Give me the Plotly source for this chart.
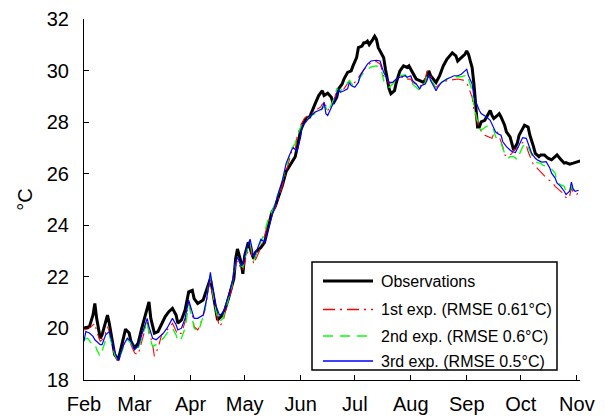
import pandas as pd
import plotly.graph_objects as go

# Day offsets from 1 February and daily mean temperature (°C) for each series
obs_day = [0, 3, 5, 6, 7, 9, 10, 12, 13, 14, 16, 17, 19, 20, 22, 23, 25, 26, 28, 30, 32, 34, 36, 37, 39, 41, 43, 45, 47, 49, 51, 52, 54, 56, 58, 60, 61, 63, 66, 68, 70, 71, 73, 74, 76, 78, 80, 83, 84, 85, 87, 88, 89, 91, 93, 94, 95, 98, 100, 102, 104, 106, 108, 110, 112, 115, 117, 118, 120, 122, 123, 125, 127, 128, 130, 132, 133, 135, 137, 138, 140, 141, 143, 144, 146, 148, 149, 151, 152, 154, 155, 156, 157, 158, 160, 161, 162, 163, 164, 166, 167, 168, 169, 170, 172, 173, 175, 177, 179, 180, 181, 183, 184, 186, 188, 190, 191, 192, 194, 195, 197, 199, 201, 203, 204, 206, 207, 209, 211, 212, 213, 214, 215, 216, 217, 218, 219, 220, 222, 223, 225, 226, 227, 229, 230, 231, 233, 234, 236, 237, 238, 240, 241, 243, 244, 246, 247, 249, 250, 252, 253, 255, 257, 259, 261, 262, 264, 266, 267, 269, 271, 273, 275]
obs_val = [20.01, 20.07, 20.52, 20.97, 20.39, 19.62, 19.75, 20.33, 20.52, 20.20, 19.37, 18.98, 18.79, 19.11, 19.62, 19.97, 19.82, 19.50, 19.24, 19.43, 20.01, 20.58, 21.03, 20.39, 19.82, 19.88, 20.20, 20.46, 20.65, 20.78, 20.52, 20.20, 20.33, 20.71, 21.42, 21.48, 21.16, 20.97, 21.10, 21.55, 21.93, 21.55, 20.78, 20.33, 20.46, 20.71, 21.16, 21.93, 22.70, 23.08, 22.57, 22.12, 22.82, 23.34, 22.89, 22.70, 22.95, 23.14, 23.34, 23.98, 24.49, 24.74, 25.13, 25.58, 26.09, 26.41, 26.66, 26.99, 27.69, 28.01, 28.14, 28.20, 28.58, 28.71, 29.03, 29.22, 29.03, 29.12, 28.97, 28.71, 28.97, 29.29, 29.48, 29.67, 29.93, 29.99, 30.18, 30.50, 30.89, 30.95, 31.08, 31.08, 31.14, 31.01, 31.21, 31.33, 31.21, 30.89, 30.76, 30.50, 30.05, 29.61, 29.29, 29.10, 29.22, 29.54, 29.99, 30.18, 30.12, 30.18, 30.05, 29.74, 29.67, 29.61, 29.54, 29.74, 29.99, 29.80, 29.61, 29.54, 29.80, 30.18, 30.44, 30.63, 30.69, 30.57, 30.37, 30.50, 30.63, 30.76, 30.63, 30.37, 30.12, 29.48, 28.71, 27.81, 27.81, 28.01, 28.07, 28.20, 28.45, 28.26, 28.14, 28.26, 28.33, 28.20, 27.88, 27.62, 27.43, 27.18, 26.92, 27.18, 27.49, 27.75, 27.88, 27.81, 27.49, 27.05, 26.79, 26.66, 26.73, 26.73, 26.60, 26.54, 26.66, 26.73, 26.56, 26.41, 26.43, 26.37, 26.41, 26.47, 26.50]

exp1_day = [0, 2, 4, 6, 7, 9, 11, 13, 14, 16, 18, 19, 20, 22, 24, 26, 28, 30, 31, 33, 35, 36, 38, 39, 41, 43, 45, 47, 49, 51, 52, 54, 56, 58, 60, 61, 63, 64, 67, 69, 70, 71, 73, 75, 77, 79, 82, 84, 85, 87, 88, 90, 92, 93, 94, 96, 98, 100, 102, 105, 107, 109, 111, 113, 115, 117, 118, 120, 122, 124, 126, 128, 131, 132, 134, 135, 137, 139, 140, 142, 144, 147, 149, 151, 153, 155, 157, 159, 162, 164, 165, 166, 168, 169, 171, 173, 175, 178, 179, 181, 182, 184, 186, 187, 189, 190, 192, 194, 195, 196, 198, 201, 203, 205, 207, 210, 212, 213, 215, 216, 218, 219, 221, 222, 224, 226, 227, 229, 230, 232, 233, 235, 237, 238, 240, 242, 243, 245, 246, 248, 249, 251, 252, 254, 257, 259, 261, 263, 265, 266, 268, 269, 270, 271, 273, 274]
exp1_val = [19.94, 19.98, 20.07, 20.20, 19.88, 19.50, 19.62, 20.07, 19.88, 19.24, 18.79, 18.66, 18.92, 19.37, 19.62, 19.37, 19.05, 18.98, 19.24, 19.75, 20.26, 19.88, 19.37, 18.92, 19.24, 19.75, 19.88, 20.01, 20.20, 19.88, 19.75, 19.82, 20.26, 21.03, 20.52, 20.07, 19.94, 20.07, 20.71, 21.55, 21.93, 21.42, 20.65, 20.07, 20.26, 20.84, 21.55, 22.44, 22.63, 22.31, 22.25, 22.82, 23.21, 22.82, 22.50, 22.82, 23.14, 23.59, 24.10, 24.55, 24.87, 25.32, 25.83, 26.28, 26.86, 26.92, 27.43, 27.88, 28.14, 28.26, 28.33, 28.45, 28.58, 28.71, 28.65, 28.45, 28.71, 28.97, 29.29, 29.22, 29.29, 29.61, 29.48, 29.61, 29.84, 30.05, 30.18, 30.31, 30.35, 30.25, 30.05, 29.80, 29.61, 29.50, 29.54, 29.67, 29.74, 29.74, 29.67, 29.67, 29.54, 29.48, 29.35, 29.48, 29.67, 29.99, 29.80, 29.42, 29.35, 29.42, 29.54, 29.61, 29.63, 29.63, 29.67, 29.63, 29.54, 29.35, 28.97, 28.45, 27.94, 27.75, 27.56, 27.49, 27.43, 27.37, 27.56, 27.62, 27.43, 27.05, 26.73, 26.66, 26.79, 26.92, 26.98, 27.18, 27.21, 27.11, 26.86, 26.54, 26.34, 26.22, 26.15, 26.02, 25.77, 25.70, 25.51, 25.38, 25.26, 25.13, 25.03, 25.13, 25.45, 25.26, 25.19, 25.32]

exp2_day = [0, 2, 4, 6, 7, 9, 10, 12, 14, 15, 17, 19, 20, 22, 24, 26, 28, 30, 32, 35, 36, 38, 40, 42, 44, 46, 49, 51, 52, 54, 56, 58, 60, 61, 63, 64, 67, 69, 70, 71, 73, 75, 77, 79, 82, 84, 85, 87, 88, 90, 92, 93, 94, 96, 98, 100, 102, 105, 107, 109, 111, 113, 115, 117, 118, 120, 122, 124, 126, 128, 131, 132, 134, 135, 137, 139, 140, 142, 144, 147, 149, 151, 153, 155, 157, 159, 162, 164, 165, 166, 168, 169, 171, 173, 175, 178, 179, 181, 182, 184, 186, 187, 189, 190, 192, 194, 195, 196, 198, 201, 203, 205, 207, 209, 211, 212, 213, 215, 216, 218, 219, 220, 222, 223, 225, 227, 228, 230, 231, 233, 235, 236, 238, 240, 241, 243, 245, 246, 248, 250, 251, 253, 254, 256, 258, 259, 261, 262, 264, 266, 267, 269, 270, 271, 273, 274]
exp2_val = [19.56, 19.62, 19.43, 19.43, 19.18, 18.92, 19.11, 19.56, 19.75, 19.50, 18.98, 18.73, 18.92, 19.30, 19.56, 19.43, 19.18, 19.24, 19.62, 20.33, 19.75, 19.30, 19.37, 19.50, 19.62, 19.82, 20.01, 19.75, 19.50, 19.62, 20.01, 20.90, 20.39, 20.01, 19.88, 20.01, 20.71, 21.67, 22.06, 21.55, 20.71, 20.26, 20.39, 20.90, 21.67, 22.57, 22.70, 22.44, 22.38, 22.95, 23.34, 23.02, 22.63, 23.02, 23.40, 23.72, 24.23, 24.68, 25.13, 25.51, 26.02, 26.47, 26.98, 27.18, 27.43, 27.81, 28.01, 28.14, 28.26, 28.33, 28.39, 28.58, 28.58, 28.39, 28.71, 28.97, 29.29, 29.22, 29.35, 29.61, 29.42, 29.48, 29.74, 29.93, 30.05, 30.14, 30.18, 30.14, 29.93, 29.61, 29.42, 29.35, 29.48, 29.67, 29.80, 29.84, 29.71, 29.67, 29.48, 29.33, 29.22, 29.38, 29.54, 29.80, 29.67, 29.42, 29.29, 29.38, 29.54, 29.67, 29.74, 29.76, 29.76, 29.76, 29.80, 29.86, 29.67, 29.22, 28.58, 28.07, 27.75, 27.69, 27.78, 27.84, 27.88, 27.69, 27.43, 27.30, 27.18, 26.79, 26.60, 26.66, 26.66, 26.54, 26.73, 27.05, 27.18, 27.05, 26.73, 26.54, 26.43, 26.41, 26.34, 26.28, 26.22, 26.18, 26.02, 25.70, 25.57, 25.51, 25.32, 25.26, 25.51, 25.39, 25.32, 25.39]

exp3_day = [0, 1, 3, 5, 6, 9, 10, 12, 14, 15, 17, 19, 20, 22, 24, 26, 28, 30, 32, 35, 36, 38, 40, 42, 44, 46, 49, 51, 52, 54, 56, 58, 60, 61, 63, 66, 68, 70, 71, 73, 75, 77, 79, 82, 84, 85, 87, 88, 90, 92, 93, 94, 96, 98, 100, 102, 104, 106, 108, 110, 112, 115, 116, 118, 120, 121, 123, 125, 127, 128, 130, 132, 133, 134, 135, 137, 138, 140, 141, 142, 144, 146, 147, 148, 150, 152, 153, 155, 157, 159, 162, 164, 165, 166, 168, 169, 171, 173, 175, 178, 179, 181, 182, 184, 186, 187, 189, 190, 191, 192, 194, 195, 196, 198, 201, 203, 205, 207, 209, 211, 212, 213, 215, 216, 218, 219, 220, 222, 223, 225, 227, 228, 229, 231, 232, 234, 236, 237, 239, 240, 242, 243, 245, 246, 248, 250, 251, 253, 254, 256, 258, 259, 261, 262, 264, 266, 267, 269, 270, 271, 272, 274]
exp3_val = [19.50, 19.88, 19.82, 19.69, 19.56, 19.37, 19.37, 19.75, 19.88, 19.62, 19.11, 18.75, 18.98, 19.37, 19.62, 19.50, 19.18, 19.30, 19.75, 20.39, 20.07, 19.62, 19.56, 19.69, 19.82, 20.01, 20.39, 20.14, 19.94, 20.01, 20.39, 21.10, 20.65, 20.39, 20.39, 20.52, 21.16, 22.18, 21.67, 20.90, 20.52, 20.58, 21.03, 21.74, 22.57, 22.76, 22.44, 22.50, 23.08, 23.46, 23.14, 22.76, 23.08, 23.46, 23.34, 23.85, 24.36, 24.87, 25.32, 25.77, 26.41, 26.92, 27.01, 26.86, 27.43, 27.88, 28.01, 28.20, 28.33, 28.39, 28.45, 28.52, 28.78, 28.33, 28.26, 28.58, 28.78, 29.03, 29.29, 29.16, 29.22, 29.29, 29.54, 29.42, 29.35, 29.54, 29.80, 30.05, 30.25, 30.37, 30.40, 30.37, 30.18, 29.93, 29.67, 29.54, 29.54, 29.67, 29.74, 29.80, 29.74, 29.80, 29.61, 29.48, 29.29, 29.42, 29.48, 29.61, 29.84, 29.61, 29.35, 29.22, 29.35, 29.54, 29.67, 29.74, 29.80, 29.80, 29.86, 29.99, 30.05, 29.80, 29.48, 28.97, 28.58, 28.45, 28.33, 28.26, 28.20, 28.07, 27.75, 27.62, 27.56, 27.49, 27.24, 27.05, 26.92, 26.86, 26.82, 26.98, 27.30, 27.40, 27.37, 27.18, 26.79, 26.60, 26.54, 26.47, 26.45, 26.47, 26.22, 26.02, 25.83, 25.64, 25.51, 25.32, 25.19, 25.32, 25.67, 25.39, 25.32, 25.36]

month_ticks = ["2010-02-01", "2010-03-01", "2010-04-01", "2010-05-01", "2010-06-01",
               "2010-07-01", "2010-08-01", "2010-09-01", "2010-10-01", "2010-11-01"]
month_labels = ["Feb", "Mar", "Apr", "May", "Jun", "Jul", "Aug", "Sep", "Oct", "Nov"]
temp_ticks = [18, 20, 22, 24, 26, 28, 30, 32]

series_names = ["Observations", "1st exp. (RMSE 0.61\u00b0C)",
                "2nd exp. (RMSE 0.6\u00b0C)", "3rd exp. (RMSE 0.5\u00b0C)"]
series_days = [obs_day, exp1_day, exp2_day, exp3_day]
series_vals = [obs_val, exp1_val, exp2_val, exp3_val]
series_colors = ["#000000", "#ff0000", "#00ff00", "#0000ff"]
series_widths = [3, 1.1, 1.3, 1.2]
series_dashes = ["solid", "12px,5px,2px,5px", "10px,7px", "solid"]

W, H = 605, 419
M = dict(l=84, r=25, t=19, b=39)
plot_w = W - M["l"] - M["r"]
plot_h = H - M["t"] - M["b"]


def paper_x(px):
    return (px - M["l"]) / plot_w


def paper_y(py):
    return (H - M["b"] - py) / plot_h


start = pd.Timestamp("2010-02-01")
fig = go.Figure()
for name, days, vals, color, width, dash in zip(series_names, series_days, series_vals,
                                               series_colors, series_widths, series_dashes):
    assert len(days) == len(vals), name
    dates = start + pd.to_timedelta(days, unit="D")
    fig.add_trace(go.Scatter(x=dates, y=vals, mode="lines", name=name,
                             line=dict(color=color, width=width, dash=dash),
                             showlegend=False))

# Boxed key in the lower right of the plot area
font_family = "Liberation Sans, Arial, sans-serif"
fig.add_shape(type="rect", xref="paper", yref="paper",
              x0=paper_x(312), x1=paper_x(557), y0=paper_y(370), y1=paper_y(262),
              line=dict(color="black", width=1.5), fillcolor="white", layer="above")
key_rows = [281, 309.5, 336, 361]
for name, color, width, dash, row in zip(series_names, series_colors, series_widths,
                                         series_dashes, key_rows):
    fig.add_shape(type="line", xref="paper", yref="paper",
                  x0=paper_x(323), x1=paper_x(373), y0=paper_y(row), y1=paper_y(row),
                  line=dict(color=color, width=max(width, 1.3), dash=dash), layer="above")
    fig.add_annotation(text=name, xref="paper", yref="paper",
                       x=paper_x(379), y=paper_y(row), xanchor="left", yanchor="middle",
                       showarrow=False, font=dict(family=font_family, size=16, color="black"))

axis_font = dict(family=font_family, size=20, color="black")
fig.update_layout(
    width=W, height=H,
    margin=M,
    paper_bgcolor="white", plot_bgcolor="white",
    font=axis_font,
    showlegend=False,
    xaxis=dict(
        range=["2010-02-01", "2010-11-02 18:00"],
        tickvals=month_ticks, ticktext=month_labels,
        showline=True, linecolor="black", linewidth=1,
        ticks="inside", ticklen=5, tickcolor="black",
        showgrid=False, zeroline=False, ticklabelstandoff=6, automargin=False,
    ),
    yaxis=dict(
        range=[18, 32], tickvals=temp_ticks,
        showline=True, linecolor="black", linewidth=1,
        ticks="inside", ticklen=5, tickcolor="black",
        showgrid=False, zeroline=False, ticklabelstandoff=10, automargin=False,
        title=dict(text="\u00b0C", standoff=8, font=axis_font),
    ),
)

fig.write_html("out.html")
